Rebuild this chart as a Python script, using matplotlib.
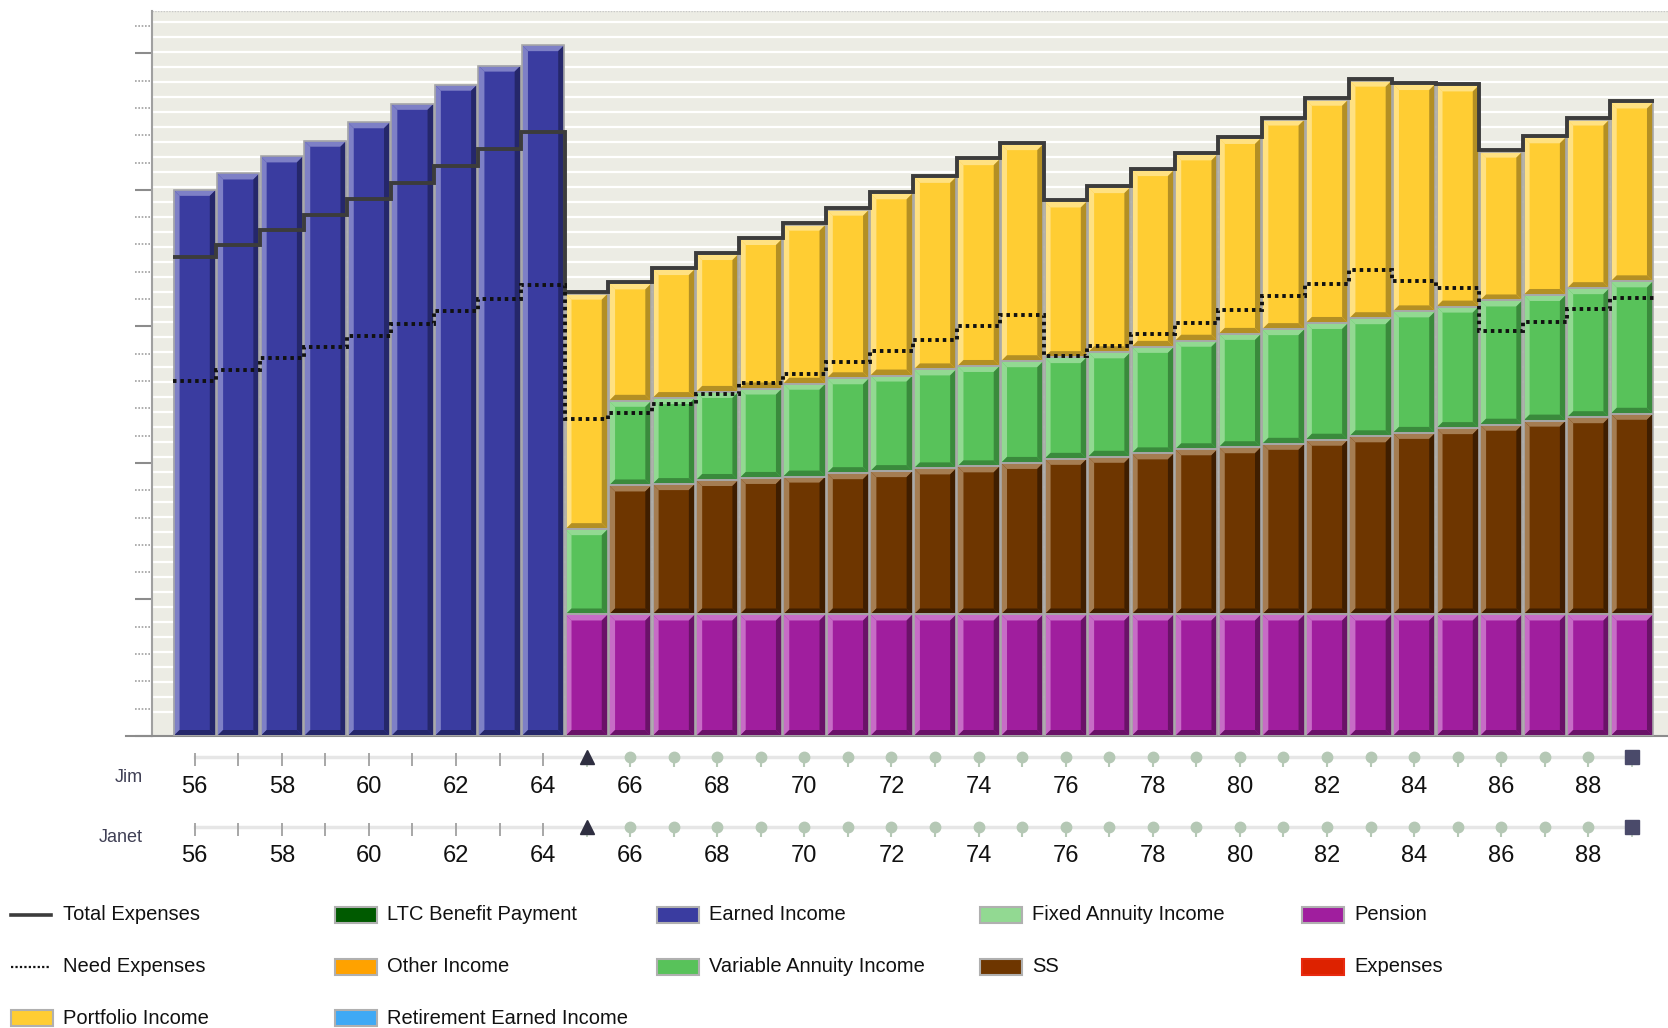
import matplotlib.pyplot as plt
import numpy as np
from matplotlib.patches import Polygon, Rectangle
from matplotlib.lines import Line2D
from matplotlib.transforms import blended_transform_factory

plt.rcParams['font.family'] = ['Liberation Sans', 'DejaVu Sans']

# ---- data (values in $k) ----
ages = list(range(56, 90))
retire_age = 65
end_age = 89

earned = [80.0, 82.4, 84.9, 87.2, 89.9, 92.6, 95.4, 98.2, 101.2] + [0] * 25
pension = [0] * 9 + [17.8] * 25
ss = [0] * 9 + [0, 18.9, 19.1, 19.7, 20.0, 20.2, 20.7, 21.0, 21.4, 21.7, 22.2,
                22.8, 23.1, 23.6, 24.2, 24.5, 25.0, 25.6, 26.1, 26.6, 27.3,
                27.8, 28.4, 28.9, 29.4]
var_annuity = [0] * 9 + [12.5, 12.4, 12.6, 12.9, 13.1, 13.6, 13.9, 14.0, 14.5, 14.7, 14.9,
                         14.9, 15.3, 15.6, 15.9, 16.6, 16.8, 17.1, 17.3, 17.8, 17.8,
                         18.2, 18.4, 18.9, 19.4]
portfolio = [0] * 9 + [34.5, 17.2, 18.9, 20.2, 21.9, 23.3, 24.7, 26.7, 28.2, 30.3, 31.8,
                       22.8, 24.2, 25.9, 27.3, 28.7, 30.7, 32.7, 34.8, 33.3, 32.4,
                       21.8, 23.1, 24.7, 26.2]
total_exp = [70.1, 71.9, 74.1, 76.3, 78.7, 81.0, 83.5, 86.0, 88.5,
             65.0, 66.5, 68.6, 70.8, 73.0, 75.1, 77.3, 79.7, 82.1, 84.7, 86.9,
             78.5, 80.6, 83.1, 85.4, 87.8, 90.5, 93.4, 96.2, 95.7, 95.5,
             85.8, 87.9, 90.5, 93.0]
need_exp = [52.0, 53.6, 55.3, 57.0, 58.6, 60.3, 62.2, 64.0, 66.1,
            46.4, 47.3, 48.7, 50.1, 51.7, 53.1, 54.8, 56.4, 58.0, 60.0, 61.6,
            55.7, 57.2, 58.9, 60.5, 62.4, 64.4, 66.2, 68.2, 66.7, 65.6,
            59.3, 60.7, 62.5, 64.1]

people = ['Jim', 'Janet']

legend_labels = ['Total Expenses', 'Need Expenses', 'Portfolio Income',
                 'LTC Benefit Payment', 'Other Income', 'Retirement Earned Income',
                 'Earned Income', 'Variable Annuity Income',
                 'Fixed Annuity Income', 'SS',
                 'Pension', 'Expenses']
legend_colors = ['#3c3c3c', '#111111', '#ffcd33',
                 '#005a00', '#ffa200', '#3fa9f5',
                 '#3a3ca0', '#58c25a',
                 '#92d992', '#6e3600',
                 '#a01e9e', '#dd2200']

# (main, light, dark)
shades = {
    'earned': ('#3a3ca0', '#7e80c6', '#25276a'),
    'pension': ('#a01e9e', '#c76cc6', '#6a1268'),
    'ss': ('#6e3600', '#a57d52', '#3f1e00'),
    'var': ('#58c25a', '#92d992', '#3a8a3c'),
    'port': ('#ffcd33', '#ffe182', '#b38f24'),
}

W, H = 1668, 1028
fig = plt.figure(figsize=(W / 100, H / 100), dpi=100)
L, R, T, B = 152, 1668, 11, 736
ax = fig.add_axes([L / W, 1 - B / H, (R - L) / W, (B - T) / H])
ax.set_facecolor('#ececE4')
ax.set_xlim(ages[0] - 0.98, ages[0] + 33.83)
ax.set_ylim(0, 106.2)

# background stripes
for gy in np.arange(3.47, 106, 2.198):
    ax.axhline(gy, color='white', lw=1.6, zorder=0)

x = np.array(ages)
bw = 0.97
px_x = (R - L) / (ax.get_xlim()[1] - ax.get_xlim()[0])
px_y = (B - T) / 106.2


def bevel(bars, light, dark):
    for p in bars:
        h = p.get_height()
        if h <= 0:
            continue
        x0, y0 = p.get_x(), p.get_y()
        x1, y1 = x0 + p.get_width(), y0 + h
        t = 6 / px_x
        s = min(6 / px_y, h / 3)
        polys = [
            ([(x0, y1), (x1, y1), (x1 - t, y1 - s), (x0 + t, y1 - s)], light),
            ([(x0, y0), (x0 + t, y0 + s), (x0 + t, y1 - s), (x0, y1)], light),
            ([(x1, y0), (x1, y1), (x1 - t, y1 - s), (x1 - t, y0 + s)], dark),
            ([(x0, y0), (x1, y0), (x1 - t, y0 + s), (x0 + t, y0 + s)], dark),
        ]
        for pts, c in polys:
            ax.add_patch(Polygon(pts, closed=True, facecolor=c, edgecolor='none', zorder=3))


bottom = np.zeros(len(ages))
for vals, key in [(earned, 'earned'), (pension, 'pension'), (ss, 'ss'),
                  (var_annuity, 'var'), (portfolio, 'port')]:
    main, light, dark = shades[key]
    if key == 'pension':
        bottom = np.zeros(len(ages))
    bars = ax.bar(x, vals, bottom=bottom, width=bw, color=main, zorder=2)
    bevel(bars, light, dark)
    ax.bar(x, vals, bottom=bottom, width=bw, fill=False, edgecolor='#a8a8a8', lw=1.2, zorder=4)
    if key != 'earned':
        bottom = bottom + np.array(vals)

edges = np.append(x - 0.5, x[-1] + 0.5)
ax.stairs(total_exp, edges, baseline=None, color='#3c3c3c', lw=2.8, zorder=6)
ax.stairs(need_exp, edges, baseline=None, color='#111111', lw=2.8,
          linestyle=(0, (0.9, 1.0)), zorder=6)

# axes styling
ax.set_xticks([])
ax.set_yticks(np.arange(0, 101, 20))
ax.tick_params(axis='y', length=12, width=1.5, color='#8c8c8c', labelleft=False)
for side in ['top', 'right']:
    ax.spines[side].set_visible(False)
ax.spines['left'].set_color('#a0a0a0')
ax.spines['left'].set_linewidth(1.5)
ax.spines['bottom'].set_color('#8c8c8c')
ax.spines['bottom'].set_linewidth(1.5)
trans = blended_transform_factory(ax.transAxes, ax.transData)
minor = [v for v in np.arange(4, 106, 4) if v % 20 != 0]
ax.hlines(minor, -0.0112, -0.0013, transform=trans, colors='#a0a0a0',
          linestyles=(0, (1, 1)), lw=1.2, clip_on=False)
ax.plot([-0.017, 0], [0, 0], transform=trans, color='#8c8c8c', lw=1.5, clip_on=False)
ax.axhline(106.2, color='#c8c8c8', lw=1, linestyle=(0, (1, 1)))

# age timelines
tax = fig.add_axes([L / W, 1 - 880 / H, (R - L) / W, 140 / H])
tax.set_xlim(ax.get_xlim())
tax.set_ylim(880, 740)
tax.axis('off')
rows = [(757, 787, 777), (827, 856, 838)]
for name, (yl, yt, yn) in zip(people, rows):
    tax.plot([ages[0], end_age], [yl, yl], color='#e6e6e6', lw=2.5, zorder=1)
    pre = [a for a in ages if a < retire_age]
    post = [a for a in ages if retire_age < a < end_age]
    tax.vlines(pre, yl - 4, yl + 9, color='#a0a0a0', lw=1.3, zorder=2)
    tax.vlines(post, yl, yl + 10, color='#b5c8b5', lw=1.5, zorder=2)
    tax.plot(post, [yl] * len(post), 'o', ms=7.5, color='#b5c8b5', zorder=3)
    tax.vlines([retire_age, end_age], yl, yl + 10, color='#b5c8b5', lw=1.2, zorder=2)
    tax.plot(retire_age, yl, marker='^', ms=10, color='#2e2e40', zorder=3)
    tax.plot(end_age, yl, marker='s', ms=10, color='#4a4a6a', zorder=3)
    for a in ages:
        if a % 2 == 0:
            tax.text(a, yt, str(a), ha='center', va='center', fontsize=17, color='#111111')
    fig.text(143 / W, 1 - yn / H, name, ha='right', va='center', fontsize=13, color='#404055')

# legend
col_x = [11, 335, 657, 980, 1302]
row_y = [915, 967, 1018]
col_counts = [3, 3, 2, 2, 2]
idx = 0
for c, n in enumerate(col_counts):
    for r in range(n):
        lab, colr = legend_labels[idx], legend_colors[idx]
        cx, cy = col_x[c], row_y[r]
        if lab == 'Total Expenses':
            fig.add_artist(Line2D([cx / W, (cx + 40) / W], [1 - cy / H] * 2,
                                  color=colr, lw=2.6, transform=fig.transFigure))
        elif lab == 'Need Expenses':
            fig.add_artist(Line2D([cx / W, (cx + 40) / W], [1 - cy / H] * 2,
                                  color=colr, lw=1.6, linestyle=(0, (1, 1)),
                                  transform=fig.transFigure))
        else:
            edge = '#e82a10' if lab == 'Expenses' else '#b0b0b0'
            fig.add_artist(Rectangle((cx / W, 1 - (cy + 8) / H), 42 / W, 16 / H,
                                     facecolor=colr, edgecolor=edge, lw=1.5,
                                     transform=fig.transFigure))
        fig.text((cx + 52) / W, 1 - cy / H, lab, ha='left', va='center',
                 fontsize=14.5, color='#111111')
        idx += 1

fig.savefig('out.png', dpi=100)
